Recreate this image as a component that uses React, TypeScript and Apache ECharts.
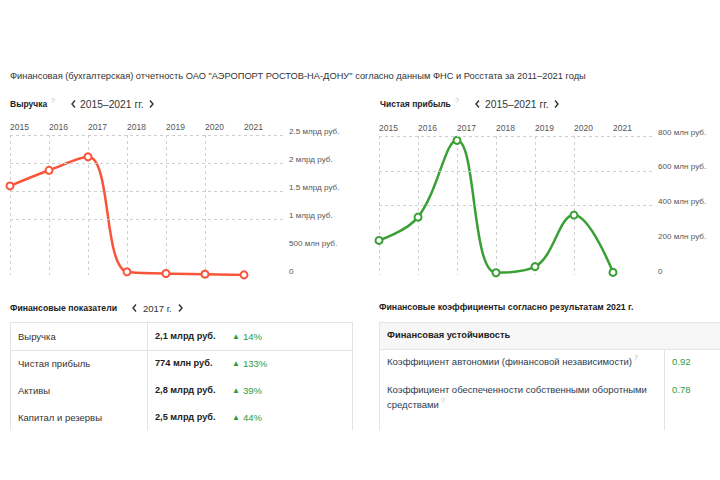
import React, { useEffect, useRef } from 'react';
import * as echarts from 'echarts';

const years = ['2015', '2016', '2017', '2018', '2019', '2020', '2021'];
const revenueBn = [1.59, 1.87, 2.11, 0.057, 0.027, 0.015, 0.002];
const profitMln = [199, 333, 775, 13, 48, 345, 15];
const revenueTicks = ['0', '500 млн руб.', '1 млрд руб.', '1.5 млрд руб.', '2 млрд руб.', '2.5 млрд руб.'];
const profitTicks = ['0', '200 млн руб.', '400 млн руб.', '600 млн руб.', '800 млн руб.'];
const revenueGridValues = [1, 1.5, 2, 2.5];
const profitGridValues = [400, 600, 800];

const indicatorNames = ['Выручка', 'Чистая прибыль', 'Активы', 'Капитал и резервы'];
const indicatorValues = ['2,1 млрд руб.', '774 млн руб.', '2,8 млрд руб.', '2,5 млрд руб.'];
const indicatorChanges = ['14%', '133%', '39%', '44%'];
const ratioNames = [
  ['Коэффициент автономии (финансовой независимости)'],
  ['Коэффициент обеспеченности собственными оборотными', 'средствами'],
];
const ratioValues = ['0.92', '0.78'];

const FONT = '"Liberation Sans", Arial, sans-serif';
const RED = '#f9553a';
const GREEN = '#3a9f34';
const TXT_GREEN = '#2f9a3c';
const BORDER = '#e4e4e4';

type TOpts = { size?: number; weight?: string; fill?: string; align?: string };
const txt = (x: number, y: number, text: string, o: TOpts = {}) => ({
  type: 'text',
  x,
  y,
  silent: true,
  style: {
    text,
    fill: o.fill || '#333',
    font: `${o.weight || 'normal'} ${o.size || 9.5}px ${FONT}`,
    verticalAlign: 'middle',
    align: o.align || 'left',
  },
});
const line = (x1: number, y1: number, x2: number, y2: number, color = BORDER) => ({
  type: 'line',
  silent: true,
  shape: { x1, y1, x2, y2 },
  style: { stroke: color, lineWidth: 1 },
});
const chevron = (x: number, y: number, dir: 'l' | 'r') => ({
  type: 'polyline',
  silent: true,
  shape: {
    points:
      dir === 'l'
        ? [[x + 3, y - 3.5], [x, y], [x + 3, y + 3.5]]
        : [[x, y - 3.5], [x + 3, y], [x, y + 3.5]],
  },
  style: { stroke: '#333', lineWidth: 1.4, fill: null },
});

function buildGraphics() {
  const g: any[] = [];
  g.push(
    txt(10, 76, 'Финансовая (бухгалтерская) отчетность ОАО "АЭРОПОРТ РОСТОВ-НА-ДОНУ" согласно данным ФНС и Росстата за 2011–2021 годы', { size: 9.3, fill: '#333' })
  );
  // chart headers
  g.push(txt(10, 104, 'Выручка', { weight: 'bold', size: 8.5, fill: '#222' }));
  g.push(txt(51, 100, '?', { size: 7, fill: '#bbb' }));
  g.push(chevron(72, 104, 'l'));
  g.push(txt(80, 104, '2015–2021 гг.', { size: 10.3 }));
  g.push(chevron(150, 104, 'r'));

  g.push(txt(380, 104, 'Чистая прибыль', { weight: 'bold', size: 8.5, fill: '#222' }));
  g.push(txt(455, 100, '?', { size: 7, fill: '#bbb' }));
  g.push(chevron(476, 104, 'l'));
  g.push(txt(485, 104, '2015–2021 гг.', { size: 10.3 }));
  g.push(chevron(555, 104, 'r'));

  // left table
  g.push(txt(10, 308, 'Финансовые показатели', { weight: 'bold', size: 8.7, fill: '#222' }));
  g.push(chevron(133, 308, 'l'));
  g.push(txt(143, 308, '2017 г.', { size: 9.5 }));
  g.push(chevron(179, 308, 'r'));

  g.push(line(10, 322.5, 353, 322.5));
  g.push(line(10, 350.5, 353, 350.5));
  g.push(line(10.5, 322, 10.5, 430));
  g.push(line(352.5, 322, 352.5, 430));
  g.push(line(147.5, 322, 147.5, 430));
  const rowY = [336, 363, 390, 417];
  indicatorNames.forEach((n, i) => {
    g.push(txt(18, rowY[i], n, { size: 9.5, fill: '#333' }));
    g.push(txt(155, rowY[i], indicatorValues[i], { size: 9.2, weight: 'bold', fill: '#222' }));
    g.push(txt(232, rowY[i], '▲', { size: 8, fill: TXT_GREEN }));
    g.push(txt(243, rowY[i], indicatorChanges[i], { size: 9.5, fill: TXT_GREEN }));
  });

  // right table
  g.push(txt(379, 307, 'Финансовые коэффициенты согласно результатам 2021 г.', { weight: 'bold', size: 8.75, fill: '#222' }));
  g.push({
    type: 'rect',
    silent: true,
    shape: { x: 379.5, y: 322.5, width: 345, height: 27 },
    style: { fill: '#f7f7f7', stroke: BORDER, lineWidth: 1 },
  });
  g.push(txt(387, 335, 'Финансовая устойчивость', { weight: 'bold', size: 9.3, fill: '#222' }));
  g.push(line(379.5, 349, 379.5, 430));
  g.push(line(664.5, 349, 664.5, 430));
  g.push(txt(387, 361, ratioNames[0][0], { size: 9.5, fill: '#2c3b4e' }));
  g.push(txt(634, 357, '?', { size: 7, fill: '#bbb' }));
  g.push(txt(672, 361, ratioValues[0], { size: 9.5, fill: TXT_GREEN }));
  g.push(txt(387, 389, ratioNames[1][0], { size: 9.5, fill: '#2c3b4e' }));
  g.push(txt(387, 404, ratioNames[1][1], { size: 9.5, fill: '#2c3b4e' }));
  g.push(txt(441, 400, '?', { size: 7, fill: '#bbb' }));
  g.push(txt(672, 389, ratioValues[1], { size: 9.5, fill: TXT_GREEN }));
  return g;
}

const makeX = (gridIndex: number) => ({
  type: 'category',
  gridIndex,
  position: 'top',
  data: [...years, ''],
  boundaryGap: false,
  axisLine: { show: false },
  axisTick: { show: false },
  axisLabel: { interval: 0, align: 'left', margin: 4, fontSize: 8.5, color: '#555', fontFamily: FONT },
  splitLine: {
    show: true,
    interval: (idx: number) => idx < years.length - 1,
    lineStyle: { type: [3, 3], color: '#cfcfcf', width: 1 },
  },
});

const makeY = (gridIndex: number, max: number, step: number, labels: string[]) => ({
  type: 'value',
  gridIndex,
  position: 'right',
  min: 0,
  max,
  interval: step,
  axisLine: { show: false },
  axisTick: { show: false },
  splitLine: { show: false },
  axisLabel: {
    margin: 6,
    fontSize: 8.1,
    color: '#555',
    fontFamily: FONT,
    verticalAlign: 'bottom',
    formatter: (v: number) => labels[Math.round(v / step)] ?? '',
  },
});

const makeSeries = (i: number, data: number[], color: string, gridVals: number[]) => ({
  type: 'line',
  xAxisIndex: i,
  yAxisIndex: i,
  data,
  smooth: 0.4,
  symbol: 'emptyCircle',
  symbolSize: 7,
  lineStyle: { width: 2.5, color },
  itemStyle: { color, borderWidth: 2 },
  markLine: {
    silent: true,
    symbol: 'none',
    label: { show: false },
    lineStyle: { type: [3, 3], color: '#cfcfcf', width: 1 },
    data: gridVals.map((v) => ({ yAxis: v })),
  },
});

export default function App() {
  const ref = useRef<HTMLDivElement>(null);
  useEffect(() => {
    if (!ref.current) return;
    const chart = echarts.init(ref.current, undefined, { renderer: 'svg' });
    chart.setOption({
      animation: false,
      backgroundColor: '#fff',
      textStyle: { fontFamily: FONT },
      grid: [
        { left: 10, top: 135, width: 273, height: 140 },
        { left: 379, top: 136, width: 273, height: 139 },
      ],
      xAxis: [makeX(0), makeX(1)],
      yAxis: [makeY(0, 2.5, 0.5, revenueTicks), makeY(1, 800, 200, profitTicks)],
      series: [
        makeSeries(0, revenueBn, RED, revenueGridValues),
        makeSeries(1, profitMln, GREEN, profitGridValues),
      ],
      graphic: buildGraphics(),
    });
    return () => chart.dispose();
  }, []);
  return (
    <div
      ref={ref}
      style={{ position: 'absolute', left: 0, top: 0, width: 720, height: 480, background: '#fff' }}
    />
  );
}
